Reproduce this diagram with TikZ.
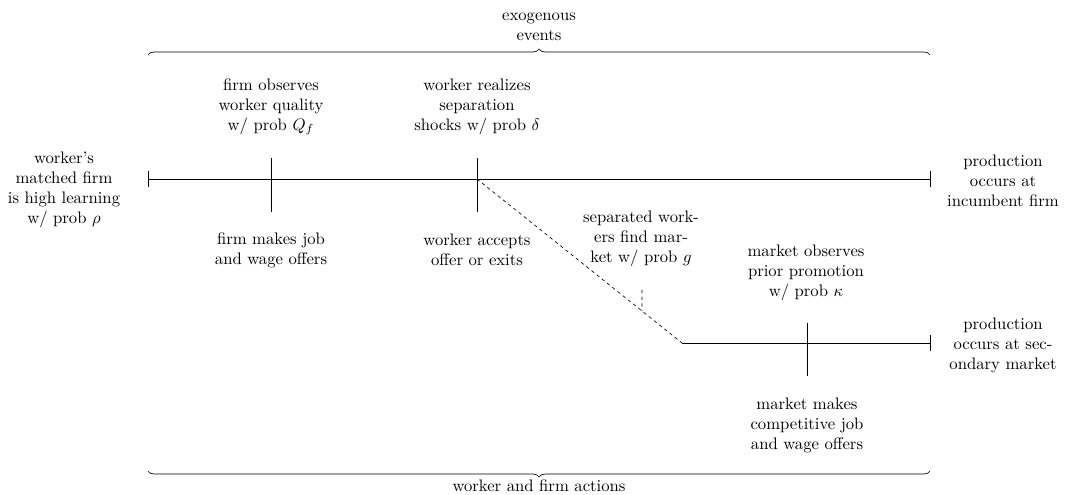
\documentclass[tikz,border=0pt]{standalone}
\usetikzlibrary{decorations.pathreplacing,calc}
\begin{document}
\begin{tikzpicture}[x=0.6pt,y=-0.6pt,
  lbl/.style={align=center,inner sep=0pt},
  bracestyle/.style={decorate,decoration={brace,amplitude=3.6pt}},
  dashstyle/.style={dash pattern=on 2pt off 2pt}]
\useasboundingbox (0,0) rectangle (1073,495);
% main timeline
\coordinate (s0) at (148,179);
\coordinate (t1) at (271,179);
\coordinate (t2) at (477,179);
\coordinate (e0) at (930,179);
% secondary timeline
\coordinate (s1) at (682,343);
\coordinate (t3) at (807,343);
\coordinate (e1) at (930,343);
\coordinate (g0) at (642,290);
\coordinate (g1) at ($(t2)!0.805!(s1)$);

\draw (s0) -- (e0);
\draw (148,171) -- (148,187);
\draw (930,171) -- (930,187);
\draw (271,158) -- (271,212);
\draw (477,158) -- (477,212);

\draw[dashstyle] (t2) -- (s1);
\draw[dashstyle] (g0) -- (g1);

\draw (s1) -- (e1);
\draw (807,323) -- (807,376);
\draw (930,335) -- (930,351);

% braces
\draw[bracestyle] (148,55) -- (930,55);
\draw[bracestyle] (930,471) -- (148,471);

% labels
\node[lbl] (exo) at (539,27) {exogenous\\events};
\node[lbl] (act) at (539,486) {worker and firm actions};
\node[lbl] (left) at (64,190) {worker's\\matched firm\\is high learning\\w/ prob $\rho$};
\node[lbl] (a1) at (271,107) {firm observes\\worker quality\\w/ prob $Q_f$};
\node[lbl] (a2) at (477,107) {worker realizes\\separation\\shocks w/ prob $\delta$};
\node[lbl] (b1) at (271,250) {firm makes job\\and wage offers};
\node[lbl] (b2) at (477,250) {worker accepts\\offer or exits};
\node[lbl] (r1) at (1003,181) {production\\occurs at\\incumbent firm};
\node[lbl] (sep) at (641,239) {separated work-\\ers find mar-\\ket w/ prob $g$};
\node[lbl] (mo) at (806,273) {market observes\\prior promotion\\w/ prob $\kappa$};
\node[lbl] (r2) at (1003,345) {production\\occurs at sec-\\ondary market};
\node[lbl] (mm) at (807,425) {market makes\\competitive job\\and wage offers};
\end{tikzpicture}
\end{document}
